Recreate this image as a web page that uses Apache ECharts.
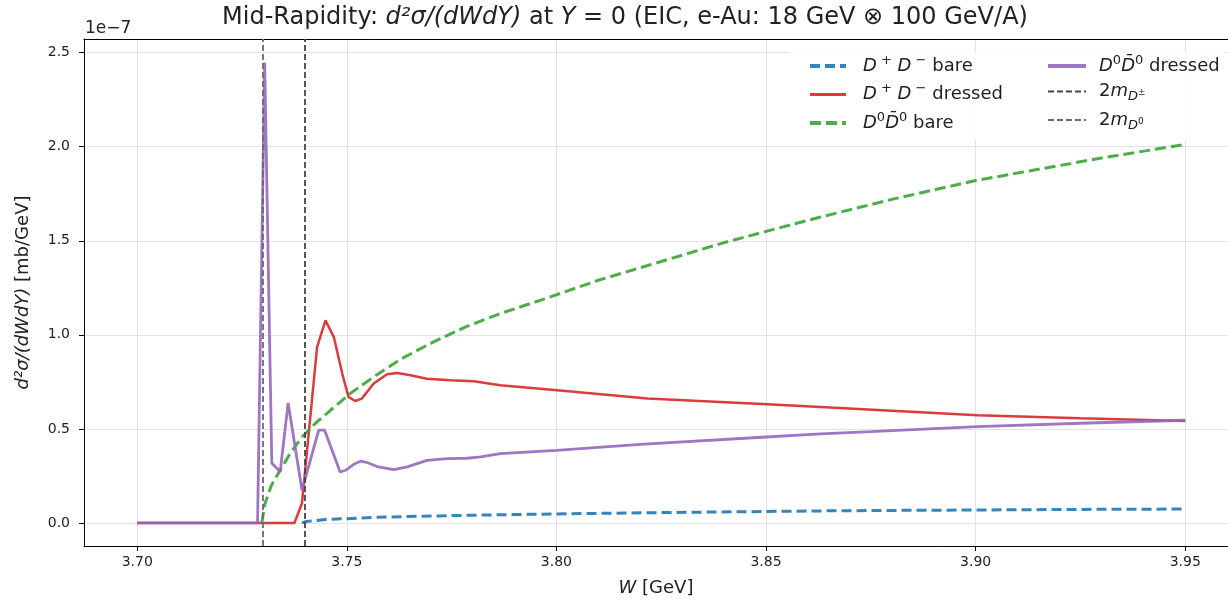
<!DOCTYPE html>
<html>
<head>
<meta charset="utf-8">
<script src="https://cdn.jsdelivr.net/npm/echarts@6/dist/echarts.min.js"></script>
<style>
html,body{margin:0;padding:0;background:#fff;}
#chart{width:1228px;height:603px;}
</style>
</head>
<body>
<div id="chart"></div>
<script>
// values are in units of 1e-7 mb/GeV
var thrD0 = 3.7297;   // 2 m_D0
var thrDpm = 3.7393;  // 2 m_D+-

var xTicks = [3.70, 3.75, 3.80, 3.85, 3.90, 3.95];
var yTicks = [0.0, 0.5, 1.0, 1.5, 2.0, 2.5];

// D+D- bare
var wDpmBare = [3.7393, 3.7400, 3.7415, 3.7450, 3.7500, 3.7568, 3.7700, 3.7850, 3.8000, 3.8250, 3.8500, 3.8630, 3.8750, 3.9000, 3.9250, 3.9500];
var vDpmBare = [0, 0.006, 0.011, 0.018, 0.023, 0.030, 0.037, 0.043, 0.048, 0.055, 0.061, 0.064, 0.066, 0.069, 0.072, 0.074];

// D+D- dressed
var wDpmDressed = [3.7000, 3.7375, 3.7393, 3.7429, 3.7449, 3.7469, 3.7489, 3.7504, 3.7520, 3.7536, 3.7564, 3.7596, 3.7620, 3.7652, 3.7691, 3.7747, 3.7803, 3.7866, 3.8002, 3.8217, 3.8503, 3.8630, 3.9004, 3.9250, 3.9500];
var vDpmDressed = [0, 0, 0.105, 0.935, 1.077, 0.988, 0.794, 0.670, 0.648, 0.661, 0.741, 0.790, 0.797, 0.785, 0.767, 0.758, 0.753, 0.732, 0.705, 0.661, 0.631, 0.616, 0.572, 0.556, 0.542];

// D0 D0bar bare
var wD0Bare = [3.7297, 3.7305, 3.7320, 3.7341, 3.7365, 3.7393, 3.7430, 3.7461, 3.7508, 3.7560, 3.7628, 3.7700, 3.7786, 3.7866, 3.7970, 3.8100, 3.8250, 3.8400, 3.8500, 3.8630, 3.8800, 3.9000, 3.9150, 3.9300, 3.9500];
var vD0Bare = [0, 0.105, 0.200, 0.280, 0.370, 0.457, 0.540, 0.599, 0.688, 0.770, 0.870, 0.955, 1.045, 1.113, 1.190, 1.290, 1.390, 1.490, 1.550, 1.626, 1.720, 1.820, 1.880, 1.940, 2.012];

// D0 D0bar dressed
var wD0Dressed = [3.7000, 3.7287, 3.7304, 3.7321, 3.7341, 3.7360, 3.7393, 3.7433, 3.7447, 3.7484, 3.7497, 3.7519, 3.7534, 3.7550, 3.7572, 3.7612, 3.7644, 3.7691, 3.7739, 3.7787, 3.7819, 3.7866, 3.8000, 3.8200, 3.8500, 3.8630, 3.8750, 3.9004, 3.9250, 3.9500];
var vD0Dressed = [0, 0, 2.447, 0.317, 0.272, 0.638, 0.174, 0.493, 0.493, 0.271, 0.280, 0.315, 0.329, 0.320, 0.300, 0.284, 0.298, 0.333, 0.342, 0.344, 0.351, 0.369, 0.386, 0.418, 0.457, 0.474, 0.486, 0.512, 0.530, 0.546];

function pairs(w, v)
{
	var out = [];
	for(var i=0;i<w.length;i++)
	{
		out.push([w[i], v[i]]);
	}
	return out;
}

var FONT = 'DejaVu Sans';
var TXT = '#222';
//图例文字，模拟mathtext上下标
var legendRich = {
	i:{fontFamily:FONT,fontStyle:'italic',fontSize:18,color:TXT,lineHeight:24},
	n:{fontFamily:FONT,fontSize:18,color:TXT,lineHeight:24},
	sup:{fontFamily:FONT,fontSize:13,color:TXT,lineHeight:12,verticalAlign:'top'},
	sub:{fontFamily:FONT,fontStyle:'italic',fontSize:13,color:TXT,lineHeight:12,verticalAlign:'bottom'},
	subsup:{fontFamily:FONT,fontSize:9,color:TXT,lineHeight:10,verticalAlign:'bottom',padding:[0,0,6,0]}
};
var legendText = {
	'DpmBare':'{i|D}{sup| +}{i| D}{sup| −}{n| bare}',
	'DpmDressed':'{i|D}{sup| +}{i| D}{sup| −}{n| dressed}',
	'D0Bare':'{i|D}{sup|0}{i|D̄}{sup|0}{n| bare}',
	'D0Dressed':'{i|D}{sup|0}{i|D̄}{sup|0}{n| dressed}',
	'mDpm':'{n|2}{i|m}{sub|D}{subsup|±}',
	'mD0':'{n|2}{i|m}{sub|D}{subsup|0}'
};
var axisRich = {
	i:{fontFamily:FONT,fontStyle:'italic',fontSize:18,color:TXT},
	n:{fontFamily:FONT,fontSize:18,color:TXT}
};

var chart = echarts.init(document.getElementById('chart'));
var option = {
	backgroundColor:'#fff',
	animation:false,
	grid:{left:84,top:39,right:0,height:507,show:false},
	xAxis:[{
		type:'value',min:3.6873,max:3.9602,splitNumber:5,
		axisLine:{show:true,onZero:false,lineStyle:{color:'#000',width:1}},
		axisTick:{show:true,length:5,customValues:xTicks,lineStyle:{color:'#000'}},
		axisLabel:{customValues:xTicks,margin:9,fontFamily:FONT,fontSize:14,color:TXT,
			formatter:function(v){return v.toFixed(2);}},
		splitLine:{show:true,lineStyle:{color:'#e3e3e3',width:1}},
		name:'{i|W}{n| [GeV]}',nameLocation:'middle',nameGap:33,
		nameTextStyle:{rich:axisRich}
	},{
		//上边框
		type:'value',position:'top',min:3.6873,max:3.9602,
		axisLine:{show:true,onZero:false,lineStyle:{color:'#000',width:1}},
		axisTick:{show:false},axisLabel:{show:false},splitLine:{show:false}
	}],
	yAxis:{
		type:'value',min:-0.1225,max:2.5725,splitNumber:5,
		axisLine:{show:true,onZero:false,lineStyle:{color:'#000',width:1}},
		axisTick:{show:true,length:5,customValues:yTicks,lineStyle:{color:'#000'}},
		axisLabel:{customValues:yTicks,margin:14,fontFamily:FONT,fontSize:14,color:TXT,
			formatter:function(v){return v.toFixed(1);}},
		splitLine:{show:true,lineStyle:{color:'#e3e3e3',width:1}},
		name:'{i|d²σ/(dWdY)}{n| [mb/GeV]}',nameLocation:'middle',nameGap:52,
		nameTextStyle:{rich:axisRich}
	},
	legend:[
		{
			left:803,top:49,orient:'vertical',itemGap:7.5,itemWidth:36,itemHeight:14,z:6,
			itemStyle:{opacity:0},
			data:[
				{name:'DpmBare',lineStyle:{width:4}},
				{name:'DpmDressed',lineStyle:{width:3}},
				{name:'D0Bare',lineStyle:{width:4}}
			],
			formatter:function(name){return legendText[name];},
			textStyle:{rich:legendRich,padding:[0,0,0,12]}
		},
		{
			left:1041,top:49,orient:'vertical',itemGap:7.5,itemWidth:38,itemHeight:14,z:6,
			itemStyle:{opacity:0},
			data:[
				{name:'D0Dressed',lineStyle:{width:4}},
				{name:'mDpm',lineStyle:{width:2}},
				{name:'mD0',lineStyle:{width:2}}
			],
			formatter:function(name){return legendText[name];},
			textStyle:{rich:legendRich,padding:[0,0,0,8]}
		}
	],
	graphic:[
		{
			type:'text',x:625,y:18,z:10,
			style:{
				text:'{n|Mid-Rapidity: }{i|d²σ/(dWdY)}{n| at }{i|Y}{n| = 0 (EIC, e-Au: 18 GeV ⊗ 100 GeV/A)}',
				align:'center',verticalAlign:'middle',
				rich:{
					n:{fontFamily:FONT,fontSize:24,fill:TXT},
					i:{fontFamily:FONT,fontStyle:'italic',fontSize:24,fill:TXT}
				}
			}
		},
		{
			type:'text',x:85,y:29,z:10,
			style:{text:'1e−7',fontFamily:FONT,fontSize:17,fill:TXT,align:'left',verticalAlign:'middle'}
		},
		{
			type:'rect',z:5,
			shape:{x:789,y:52,width:436,height:88,r:3},
			style:{fill:'rgba(255,255,255,0.85)',stroke:'none'}
		}
	],
	series:[
		{
			name:'DpmBare',type:'line',symbol:'none',z:2,
			data:pairs(wDpmBare,vDpmBare),
			lineStyle:{color:'#1f77b4',width:3,type:[10,5],opacity:0.9},
			itemStyle:{color:'#1f77b4'}
		},
		{
			name:'DpmDressed',type:'line',symbol:'none',z:2,
			data:pairs(wDpmDressed,vDpmDressed),
			lineStyle:{color:'#d62728',width:2.5,opacity:0.9},
			itemStyle:{color:'#d62728'}
		},
		{
			name:'D0Bare',type:'line',symbol:'none',z:2,
			data:pairs(wD0Bare,vD0Bare),
			lineStyle:{color:'#2ca02c',width:3,type:[11,5],opacity:0.85},
			itemStyle:{color:'#2ca02c'}
		},
		{
			name:'D0Dressed',type:'line',symbol:'none',z:2,
			data:pairs(wD0Dressed,vD0Dressed),
			lineStyle:{color:'#9467bd',width:2.8,opacity:0.9},
			itemStyle:{color:'#9467bd'}
		},
		{
			name:'mDpm',type:'line',symbol:'none',z:3,data:[],
			lineStyle:{color:'#444',width:1.8,type:[6,3]},
			itemStyle:{color:'#444'},
			markLine:{silent:true,symbol:['none','none'],label:{show:false},
				lineStyle:{color:'#444',width:1.8,type:[6,3]},
				data:[{xAxis:thrDpm}]}
		},
		{
			name:'mD0',type:'line',symbol:'none',z:3,data:[],
			lineStyle:{color:'#6a6a6a',width:1.8,type:[6,3]},
			itemStyle:{color:'#6a6a6a'},
			markLine:{silent:true,symbol:['none','none'],label:{show:false},
				lineStyle:{color:'#6a6a6a',width:1.8,type:[6,3]},
				data:[{xAxis:thrD0}]}
		}
	]
};
chart.setOption(option);
</script>
</body>
</html>
